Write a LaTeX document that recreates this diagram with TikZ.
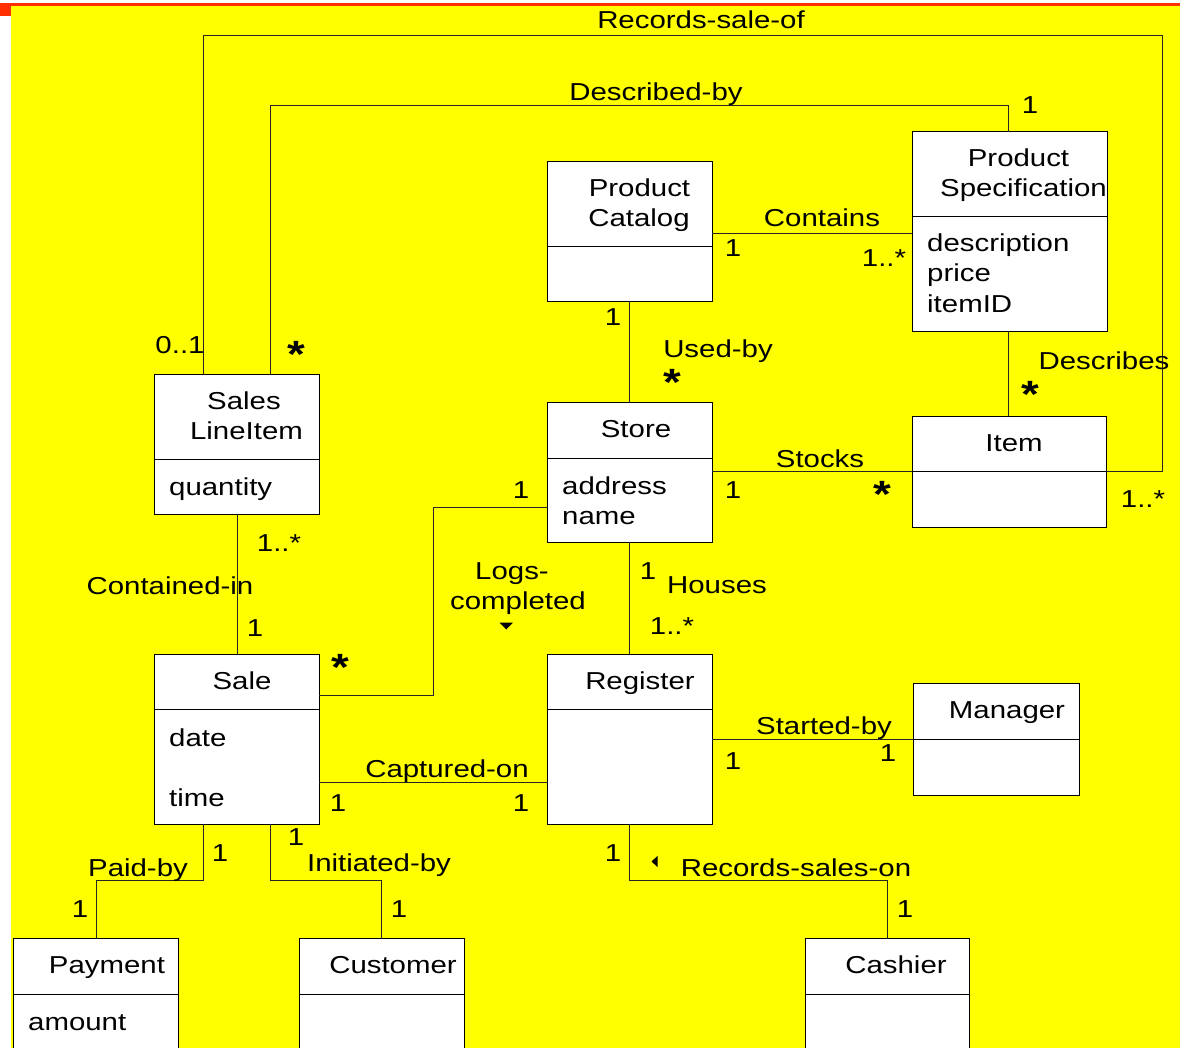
\documentclass[tikz,border=0pt]{standalone}
\usepackage{fontspec}
\setmainfont{Liberation Sans}[FakeStretch=1.2]
\definecolor{bgyellow}{RGB}{255,255,0}
\definecolor{redline}{RGB}{255,48,0}
\begin{document}
\begin{tikzpicture}[x=1pt,y=-1pt,
 font=\fontsize{24.5}{30}\selectfont,
 cls/.style={draw=black, fill=white, line width=1pt, rectangle, inner sep=0pt, outer sep=0pt},
 lbl/.style={inner sep=0pt, anchor=base},
 lbll/.style={inner sep=0pt, anchor=base west},
 star/.style={inner sep=0pt, anchor=north, font=\fontsize{38}{38}\selectfont\bfseries},
 conn/.style={line width=0.8pt, draw=black!85},
 divline/.style={line width=1pt, draw=black},
 tri/.style={fill=black}]
\useasboundingbox (0,0) rectangle (1180,1048);
\clip (0,0) rectangle (1180,1048);
% background
\fill[white] (0,0) rectangle (1180,1048);
\fill[bgyellow] (11,6) rectangle (1180,1048);
\fill[redline] (0,3.5) rectangle (1180,6);
\fill[redline] (0,3.5) rectangle (11,16);

% classes
\node[cls, minimum width=165, minimum height=140] (cat) at (629.5,232) {};
\node[cls, minimum width=195, minimum height=200] (spec) at (1009.5,232) {};
\node[cls, minimum width=165, minimum height=140] (sli) at (236.5,444) {};
\node[cls, minimum width=165, minimum height=140] (store) at (629.5,472) {};
\node[cls, minimum width=194, minimum height=111] (item) at (1009,471.5) {};
\node[cls, minimum width=165, minimum height=170] (sale) at (236.5,739) {};
\node[cls, minimum width=165, minimum height=170] (reg) at (629.5,739) {};
\node[cls, minimum width=166, minimum height=112] (mgr) at (996,739) {};
\node[cls, minimum width=165, minimum height=132] (pay) at (95.5,1004) {};
\node[cls, minimum width=165, minimum height=132] (cust) at (381.5,1004) {};
\node[cls, minimum width=164, minimum height=132] (cash) at (887,1004) {};

% dividers
\draw[divline] (cat.west |- 0,247) -- (cat.east |- 0,247);
\draw[divline] (spec.west |- 0,217) -- (spec.east |- 0,217);
\draw[divline] (sli.west |- 0,459) -- (sli.east |- 0,459);
\draw[divline] (store.west |- 0,458) -- (store.east |- 0,458);
\draw[divline] (item.west |- 0,471) -- (item.east |- 0,471);
\draw[divline] (sale.west |- 0,709) -- (sale.east |- 0,709);
\draw[divline] (reg.west |- 0,709) -- (reg.east |- 0,709);
\draw[divline] (mgr.west |- 0,739) -- (mgr.east |- 0,739);
\draw[divline] (pay.west |- 0,994) -- (pay.east |- 0,994);
\draw[divline] (cust.west |- 0,994) -- (cust.east |- 0,994);
\draw[divline] (cash.west |- 0,994) -- (cash.east |- 0,994);

% class texts
\node[lbl] (catA) at (639.5,197) {Product};
\node[lbl] (catB) at (639,227) {Catalog};
\node[lbl] (specA) at (1018.5,167) {Product};
\node[lbl] (specB) at (1023.5,197) {Specification};
\node[lbll] (specC) at (927,252) {description};
\node[lbll] (specD) at (927,282) {price};
\node[lbll] (specE) at (927,313) {itemID};
\node[lbl] (sliA) at (244,409) {Sales};
\node[lbl] (sliB) at (246.5,439) {LineItem};
\node[lbll] (sliC) at (169,495) {quantity};
\node[lbl] (storeA) at (636,437) {Store};
\node[lbll] (storeB) at (562,494) {address};
\node[lbll] (storeC) at (562,524) {name};
\node[lbl] (itemA) at (1014,451) {Item};
\node[lbl] (saleA) at (242,689) {Sale};
\node[lbll] (saleB) at (169,746) {date};
\node[lbll] (saleC) at (169,806) {time};
\node[lbl] (regA) at (640,689) {Register};
\node[lbl] (mgrA) at (1007,718) {Manager};
\node[lbl] (payA) at (107,973) {Payment};
\node[lbll] (payB) at (28,1030) {amount};
\node[lbl] (custA) at (393,973) {Customer};
\node[lbl] (cashA) at (896,973) {Cashier};

% connectors
\draw[conn] (sli.north -| 203,0) -- (203,35) -| (1162,300) |- (item.east |- 0,471);
\draw[conn] (sli.north -| 270,0) -- (270,105) -| (spec.north -| 1008,0);
\draw[conn] (cat.east |- 0,233) -- (spec.west |- 0,233);
\draw[conn] (cat.south) -- (store.north);
\draw[conn] (spec.south -| 1008,0) -- (item.north -| 1008,0);
\draw[conn] (store.east |- 0,471) -- (item.west |- 0,471);
\draw[conn] (sli.south -| 237,0) -- (sale.north -| 237,0);
\draw[conn] (store.west |- 0,507) -| (433,695) -- (sale.east |- 0,695);
\draw[conn] (store.south) -- (reg.north);
\draw[conn] (reg.east |- 0,739) -- (mgr.west |- 0,739);
\draw[conn] (sale.east |- 0,782) -- (reg.west |- 0,782);
\draw[conn] (sale.south -| 203,0) |- (96,880) -- (pay.north -| 96,0);
\draw[conn] (sale.south -| 270,0) |- (381,880) -- (cust.north -| 381,0);
\draw[conn] (reg.south) |- (887,880) -- (cash.north);

% association labels
\node[lbl] (l1) at (701,29) {Records-sale-of};
\node[lbl] (l2) at (656,101) {Described-by};
\node[lbl] (l3) at (1030,114) {1};
\node[lbl] (l4) at (822,227) {Contains};
\node[lbl] (l5) at (733,257) {1};
\node[lbl] (l6) at (884,267) {1..*};
\node[lbl] (l7) at (613,326) {1};
\node[lbl] (l8) at (718,357) {Used-by};
\node[star] (l9) at (672,369) {*};
\node[lbl] (l10) at (1104,369) {Describes};
\node[star] (l11) at (1030,381) {*};
\node[lbl] (l12) at (180,354) {0..1};
\node[star] (l13) at (296,341) {*};
\node[lbl] (l14) at (820,467) {Stocks};
\node[lbl] (l15) at (733,498) {1};
\node[star] (l16) at (882,481) {*};
\node[lbl] (l17) at (1143,507) {1..*};
\node[lbl] (l18) at (521,498) {1};
\node[lbl] (l19) at (279,551) {1..*};
\node[lbl] (l20) at (170,594) {Contained-in};
\node[lbl] (l21) at (255,636) {1};
\node[lbl] (l22) at (512,579) {Logs-};
\node[lbl] (l23) at (518,609) {completed};
\node[lbl] (l24) at (648,579) {1};
\node[lbl] (l25) at (717,593) {Houses};
\node[lbl] (l26) at (672,634) {1..*};
\node[star] (l27) at (340,654) {*};
\node[lbl] (l28) at (824,734) {Started-by};
\node[lbl] (l29) at (733,769) {1};
\node[lbl] (l30) at (888,761) {1};
\node[lbl] (l31) at (447,777) {Captured-on};
\node[lbl] (l32) at (338,811) {1};
\node[lbl] (l33) at (521,811) {1};
\node[lbl] (l34) at (296,845) {1};
\node[lbl] (l35) at (220,861) {1};
\node[lbl] (l36) at (138,876) {Paid-by};
\node[lbl] (l37) at (379,871) {Initiated-by};
\node[lbl] (l38) at (613,861) {1};
\node[lbl] (l39) at (796,876) {Records-sales-on};
\node[lbl] (l40) at (80,917) {1};
\node[lbl] (l41) at (399,917) {1};
\node[lbl] (l42) at (905,917) {1};

% direction triangles
\fill[tri] (499.5,622.5) -- (513,622.5) -- (506.25,629.5) -- cycle;
\fill[tri] (657.5,856) -- (657.5,867) -- (651.5,861.5) -- cycle;
\end{tikzpicture}
\end{document}
